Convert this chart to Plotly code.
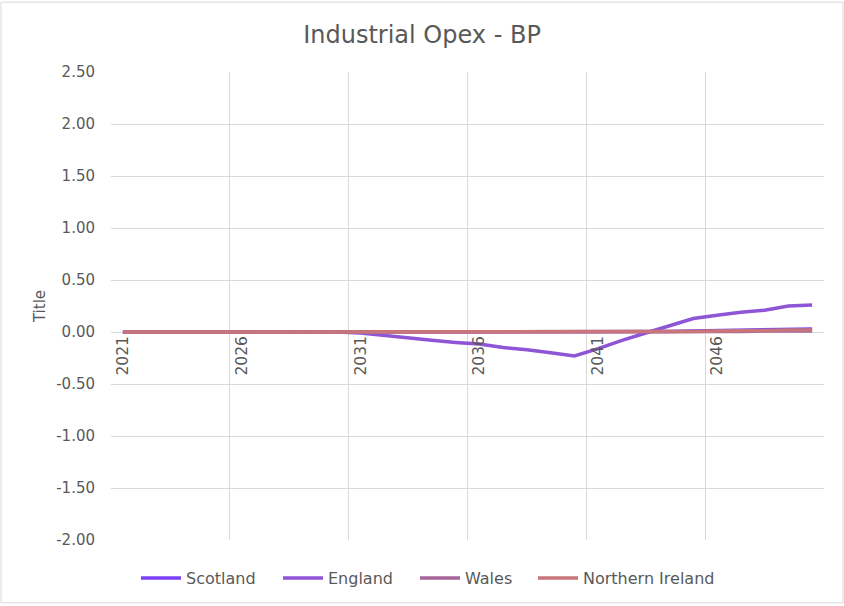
import plotly.graph_objects as go

years = list(range(2021, 2051))
scotland = [0.00]*20 + [0.00, 0.00, 0.00, 0.005, 0.01, 0.015, 0.02, 0.025, 0.03, 0.03]
england = [0.00]*10 + [-0.01, -0.035, -0.06, -0.08, -0.10, -0.115, -0.15, -0.17, -0.20, -0.23,
                       -0.16, -0.08, -0.01, 0.06, 0.13, 0.16, 0.19, 0.21, 0.25, 0.26]
wales = [0.00]*25 + [0.005, 0.005, 0.01, 0.01, 0.01]
nireland = [0.00]*24 + [0.005, 0.01, 0.01, 0.015, 0.02, 0.02]

series = [
    ("Scotland", scotland, "#7B42F6"),
    ("England", england, "#8E55D6"),
    ("Wales", wales, "#A6669A"),
    ("Northern Ireland", nireland, "#C8767A"),
]

label_years = [2021, 2026, 2031, 2036, 2041, 2046]
grid_bounds = [2020.5, 2025.5, 2030.5, 2035.5, 2040.5, 2045.5, 2050.5]
y_ticks = [-2.0, -1.5, -1.0, -0.5, 0.0, 0.5, 1.0, 1.5, 2.0, 2.5]

FONT = "Century Gothic, DejaVu Sans, sans-serif"
GREY = "#595959"
GRID = "#D9D9D9"

W, H = 844, 606
L, R, T, B = 111, 20, 72, 65
pw, ph = W - L - R, H - T - B

# pixel x where each legend entry begins (layout only)
legend_px = [136, 278, 415, 533]
legend_names = ["legend", "legend2", "legend3", "legend4"]

fig = go.Figure()
for (name, vals, col), lg in zip(series, legend_names):
    fig.add_trace(go.Scatter(x=years, y=vals, name=name, mode="lines",
                             legend=lg, line=dict(color=col, width=3.5)))

legend_layout = {}
for lg, px in zip(legend_names, legend_px):
    legend_layout[lg] = dict(
        orientation="h", x=(px - L) / pw, xanchor="left",
        y=-(578 - (T + ph)) / ph, yanchor="middle",
        font=dict(size=16, color=GREY, family=FONT),
        itemwidth=40, bgcolor="rgba(0,0,0,0)")

fig.update_layout(
    width=W, height=H,
    margin=dict(l=L, r=R, t=T, b=B),
    paper_bgcolor="white", plot_bgcolor="white",
    font=dict(family=FONT, color=GREY),
    title=dict(text="Industrial Opex - BP", x=0.5, xanchor="center",
               y=1 - 35 / H, yanchor="middle",
               font=dict(size=24, color=GREY, family=FONT)),
    xaxis=dict(range=[2020.5, 2050.5], tickmode="array", tickvals=label_years,
               ticktext=[str(v) for v in label_years], tickangle=-90,
               showgrid=False, zeroline=False, showline=False,
               anchor="free", position=2 / 4.5,
               tickfont=dict(size=15.5, color=GREY, family=FONT),
               minor=dict(tickmode="array", tickvals=grid_bounds, showgrid=True,
                          gridcolor=GRID, gridwidth=1, ticks="")),
    yaxis=dict(range=[-2, 2.5], tickmode="array", tickvals=y_ticks,
               ticktext=[f"{v:.2f}" for v in y_ticks],
               showgrid=True, gridcolor=GRID, gridwidth=1,
               zeroline=False, showline=False, ticks="",
               ticklabelstandoff=15,
               tickfont=dict(size=15, color=GREY, family=FONT),
               title=dict(text="Title", font=dict(size=15, color=GREY, family=FONT),
                          standoff=6)),
    showlegend=True,
    **legend_layout,
)

fig.add_shape(type="rect", xref="paper", yref="paper",
              x0=(1 - L) / pw, x1=(W - 1 - L) / pw,
              y0=-(H - 2 - (T + ph)) / ph, y1=(T + ph - 2) / ph,
              line=dict(color=GRID, width=1), layer="below")

fig.write_html("out.html")
